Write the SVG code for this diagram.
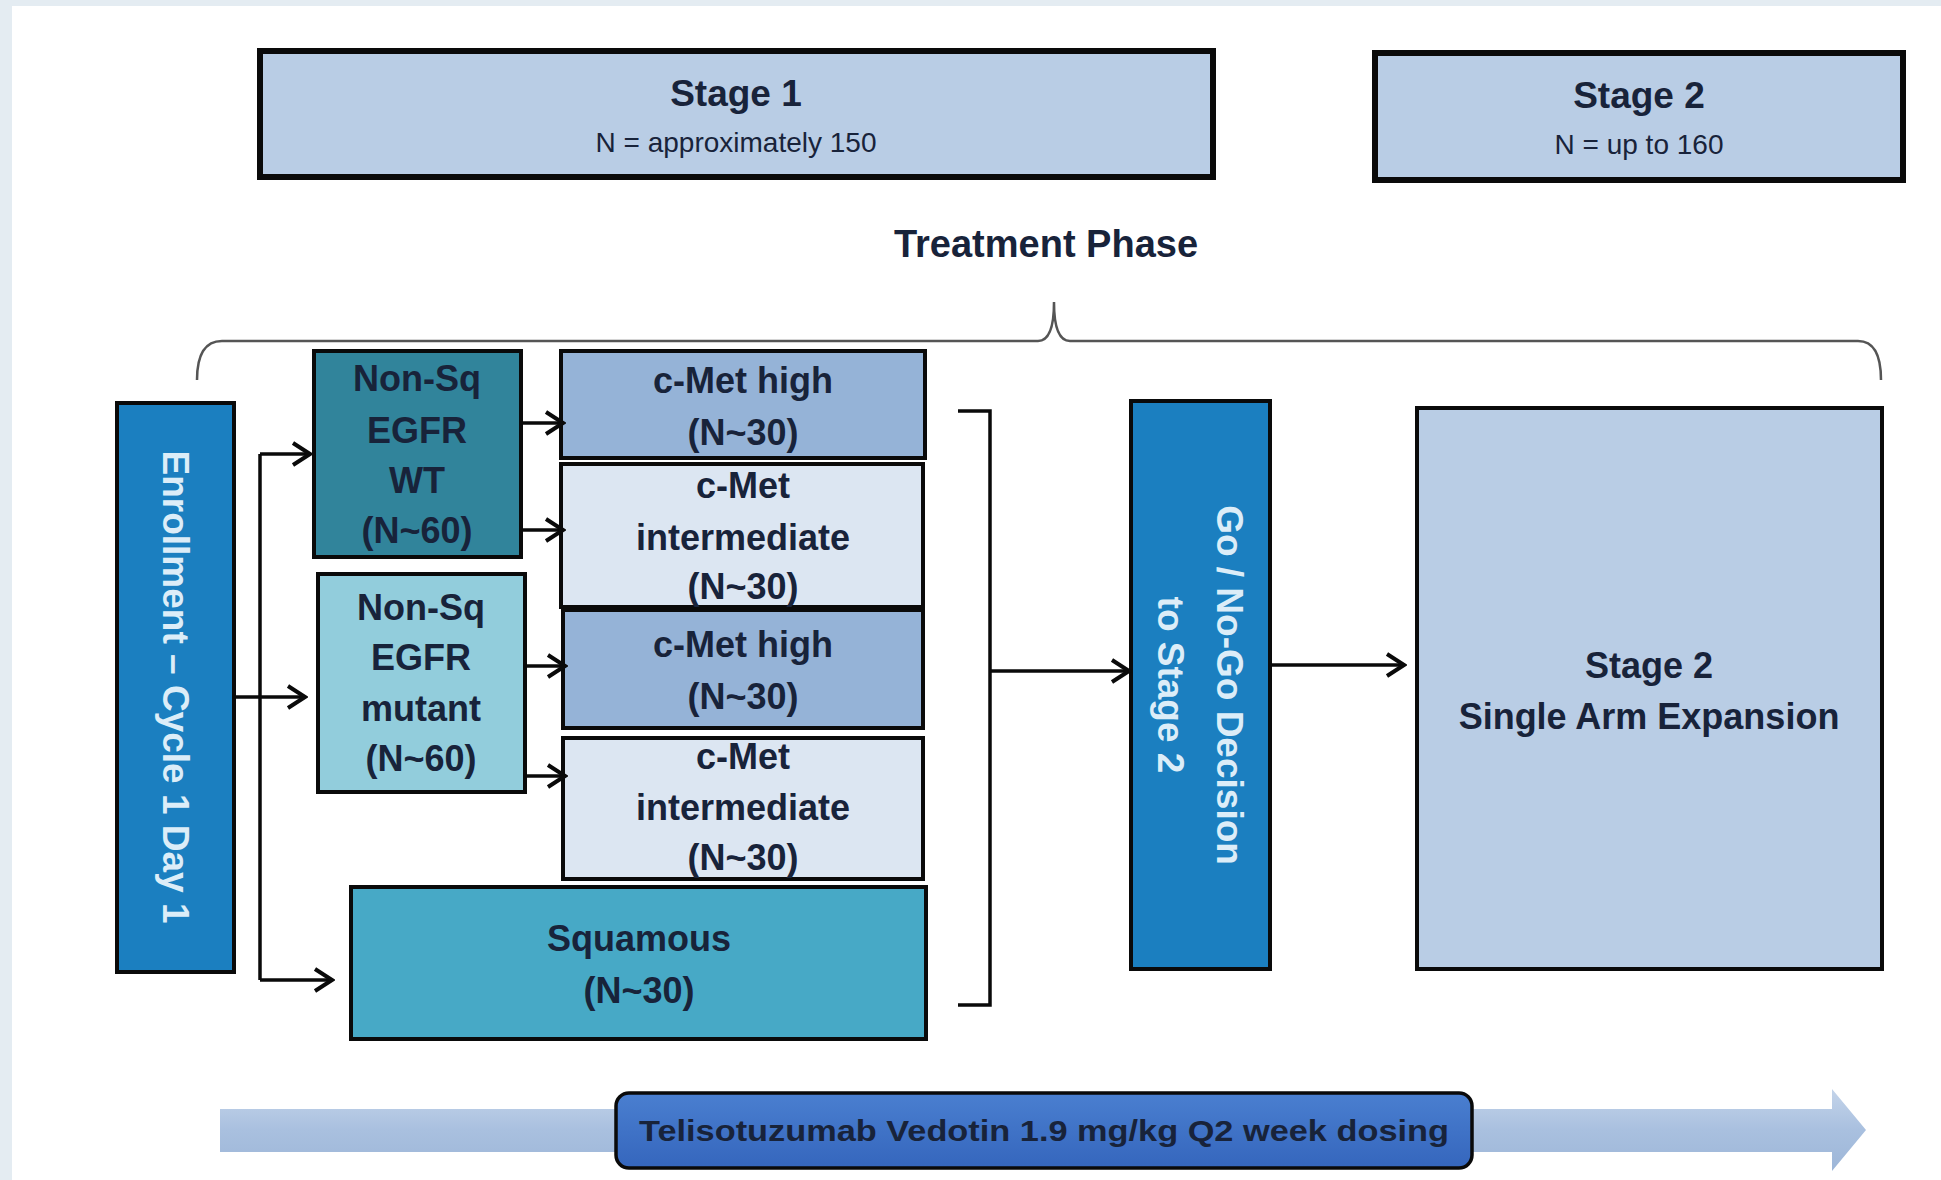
<svg xmlns="http://www.w3.org/2000/svg" width="1941" height="1180" viewBox="0 0 1941 1180">
<defs>
<style>
.lbl{font-family:"Liberation Sans",Arial,sans-serif;font-weight:bold;font-size:36px;fill:#18233a;text-anchor:middle;dominant-baseline:central}
.sub{font-family:"Liberation Sans",Arial,sans-serif;font-size:28px;fill:#18233a;text-anchor:middle;dominant-baseline:central}
.wt{fill:#dcedf8}
.box{stroke:#0a0a0a;stroke-width:4}
.stage{stroke:#0a0a0a;stroke-width:6;fill:#b9cde5}
.conn{fill:none;stroke:#0a0a0a;stroke-width:3.5}
</style>
<marker id="ah" viewBox="0 0 28 28" refX="25" refY="14" markerWidth="28" markerHeight="28" markerUnits="userSpaceOnUse" orient="auto">
<path d="M8,3 L25,14 L8,25" fill="none" stroke="#0a0a0a" stroke-width="4"/>
</marker>
<linearGradient id="barg" x1="0" y1="0" x2="0" y2="1">
<stop offset="0" stop-color="#c4d4ea"/>
<stop offset="0.5" stop-color="#a9c0df"/>
<stop offset="1" stop-color="#9db6d8"/>
</linearGradient>
<linearGradient id="dosg" x1="0" y1="0" x2="0" y2="1">
<stop offset="0" stop-color="#4a7fd0"/>
<stop offset="1" stop-color="#3566bd"/>
</linearGradient>
</defs>
<rect x="0" y="0" width="1941" height="1180" fill="#e4ecf2"/>
<rect x="12" y="6" width="1929" height="1174" fill="#ffffff"/>

<g id="stage1">
<rect class="stage" x="260" y="51" width="953" height="126"/>
<text class="lbl" x="736" y="93" style="font-size:37px">Stage 1</text>
<text class="sub" x="736" y="142">N = approximately 150</text>
</g>
<g id="stage2-header">
<rect class="stage" x="1375" y="53" width="528" height="127"/>
<text class="lbl" x="1639" y="95" style="font-size:37px">Stage 2</text>
<text class="sub" x="1639" y="144">N = up to 160</text>
</g>

<g id="treatment-phase">
<text class="lbl" x="1046" y="244" style="font-size:38px">Treatment Phase</text>
<path d="M197,380 Q197,341 222,341 L1038,341 Q1054,341 1054,302 Q1054,341 1070,341 L1858,341 Q1881,341 1881,380" fill="none" stroke="#555" stroke-width="2.5"/>
</g>

<g id="enrollment">
<rect class="box" x="117" y="403" width="117" height="569" fill="#1b7fc0"/>
<text class="lbl wt" transform="translate(175,687) rotate(90)" x="0" y="0" style="font-size:37px">Enrollment – Cycle 1 Day 1</text>
</g>

<g id="nonsq-wt">
<rect class="box" x="314" y="351" width="207" height="206" fill="#31849b"/>
<text class="lbl" x="417" y="378">Non-Sq</text>
<text class="lbl" x="417" y="430">EGFR</text>
<text class="lbl" x="417" y="480">WT</text>
<text class="lbl" x="417" y="530">(N~60)</text>
</g>

<g id="nonsq-mutant">
<rect class="box" x="318" y="574" width="207" height="218" fill="#92cddc"/>
<text class="lbl" x="421" y="607">Non-Sq</text>
<text class="lbl" x="421" y="657">EGFR</text>
<text class="lbl" x="421" y="708">mutant</text>
<text class="lbl" x="421" y="758">(N~60)</text>
</g>

<g id="cmet-high-1">
<rect class="box" x="561" y="351" width="364" height="107" fill="#95b3d7"/>
<text class="lbl" x="743" y="380">c-Met high</text>
<text class="lbl" x="743" y="432">(N~30)</text>
</g>
<g id="cmet-int-1">
<rect class="box" x="561" y="464" width="362" height="143" fill="#dce6f2"/>
<text class="lbl" x="743" y="485">c-Met</text>
<text class="lbl" x="743" y="537">intermediate</text>
<text class="lbl" x="743" y="586">(N~30)</text>
</g>
<g id="cmet-high-2">
<rect class="box" x="563" y="610" width="360" height="118" fill="#95b3d7"/>
<text class="lbl" x="743" y="644">c-Met high</text>
<text class="lbl" x="743" y="696">(N~30)</text>
</g>
<g id="cmet-int-2">
<rect class="box" x="563" y="738" width="360" height="141" fill="#dce6f2"/>
<text class="lbl" x="743" y="756">c-Met</text>
<text class="lbl" x="743" y="807">intermediate</text>
<text class="lbl" x="743" y="857">(N~30)</text>
</g>
<g id="squamous">
<rect class="box" x="351" y="887" width="575" height="152" fill="#47a9c6"/>
<text class="lbl" x="639" y="938">Squamous</text>
<text class="lbl" x="639" y="990">(N~30)</text>
</g>

<g id="go-nogo">
<rect class="box" x="1131" y="401" width="139" height="568" fill="#1b7fc0"/>
<text class="lbl wt" transform="translate(1229,685) rotate(90)" x="0" y="0" style="font-size:37px">Go / No-Go Decision</text>
<text class="lbl wt" transform="translate(1170,685) rotate(90)" x="0" y="0" style="font-size:37px">to Stage 2</text>
</g>

<g id="stage2-expansion">
<rect class="box" x="1417" y="408" width="465" height="561" fill="#b9cde5"/>
<text class="lbl" x="1649" y="665">Stage 2</text>
<text class="lbl" x="1649" y="716">Single Arm Expansion</text>
</g>

<g id="connectors">
<path class="conn" d="M260,454 L260,980"/>
<path class="conn" d="M260,454 L310,454" marker-end="url(#ah)"/>
<path class="conn" d="M234,697 L305,697" marker-end="url(#ah)"/>
<path class="conn" d="M260,980 L332,980" marker-end="url(#ah)"/>
<path class="conn" d="M521,423 L563,423" marker-end="url(#ah)"/>
<path class="conn" d="M521,530 L563,530" marker-end="url(#ah)"/>
<path class="conn" d="M525,666 L565,666" marker-end="url(#ah)"/>
<path class="conn" d="M525,776 L565,776" marker-end="url(#ah)"/>
<path class="conn" d="M958,411 L990,411 L990,1005 L958,1005"/>
<path class="conn" d="M990,671 L1129,671" marker-end="url(#ah)"/>
<path class="conn" d="M1270,665 L1404,665" marker-end="url(#ah)"/>
</g>

<g id="dosing-bar">
<path d="M220,1109 L1832,1109 L1832,1089 L1866,1130 L1832,1171 L1832,1152 L220,1152 Z" fill="url(#barg)"/>
<rect x="616" y="1093" width="856" height="75" rx="13" fill="url(#dosg)" stroke="#0a0a0a" stroke-width="3.5"/>
<text class="lbl" x="1044" y="1130" style="font-size:30px" textLength="810" lengthAdjust="spacingAndGlyphs">Telisotuzumab Vedotin 1.9 mg/kg Q2 week dosing</text>
</g>
</svg>
